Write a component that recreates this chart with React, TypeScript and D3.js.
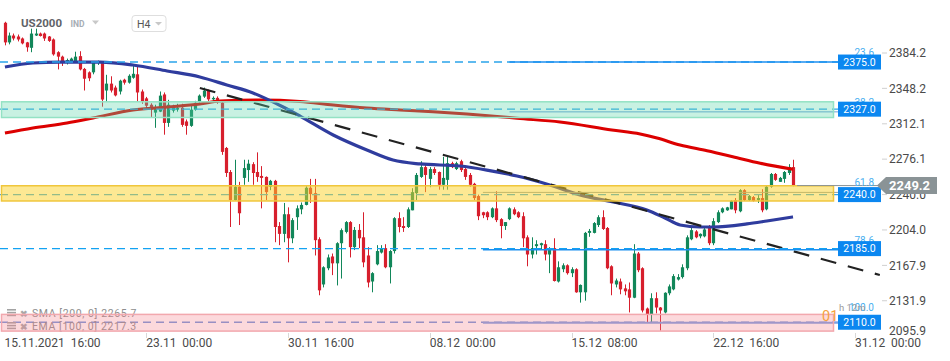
import React from "react";
import * as d3 from "d3";

// ---------- data ----------
const opens = [
  2415,2395,2402,2401,2399,2395,2389.5,2402,2404,2404,
  2401,2398,2385,2380.5,2375,2376,2376,2381,2368,2364.5,
  2364.5,2374,2375,2346,2353,2349,2345,2357,2354,2359,
  2362.5,2345,2338,2331.5,2323.5,2324.5,2342,2313,2325.5,2326.5,
  2328.5,2314.5,2310,2326.5,2334.5,2339.8,2346,2337,2338.5,2333.5,
  2287.5,2263,2234.5,2248,2257,2265,2271,2263,2259,2258,
  2248,2254,2208,2200,2220,2195.5,2217,2225,2229.5,2247,
  2241.5,2194.5,2148.5,2165,2177,2170,2190.5,2202,2212,2186.5,
  2204,2196.5,2178,2151.5,2169,2181,2185.5,2166,2182.5,2216,
  2208,2207,2224,2241.5,2258,2268,2256,2266,2263,2250,
  2255,2272,2266,2274,2266,2260,2251,2238.5,2222,2222,
  2217,2226,2215,2208,2215,2225,2222,2218,2196.5,2179,
  2187.5,2188.5,2189.5,2179,2185.5,2151.5,2164,2168,2160,2164,
  2140.5,2140.5,2201,2201,2209,2217,2206,2167,2148.5,2151.5,
  2144.5,2143.5,2135,2180,2165,2124,2118,2134.5,2125,2120,
  2139.5,2143.5,2153.5,2156,2165,2194.5,2202.5,2197.5,2197.5,2208,
  2190.5,2212,2222,2224,2225,2234.5,2223,2244.5,2234.5,2237.5,
  2234.5,2236.5,2225,2248,2261,2253,2256,2262,2268,
];
const highs = [
  2416,2405,2404,2403,2400,2395.5,2409,2409,2405,2405,
  2401.5,2399,2386,2381.5,2378.5,2379.5,2385.5,2386,2369,2365.5,
  2375,2376.5,2375.5,2362,2360.5,2351,2357,2358,2362.5,2372.5,
  2371.5,2347,2339.5,2333,2331.5,2345,2344,2336.5,2331.5,2332.5,
  2332.5,2316.5,2331.5,2335.5,2342,2349,2347,2340,2340,2335.5,
  2288.5,2265,2275.5,2253,2275.5,2275.5,2273,2283,2269,2258.5,
  2255,2255,2212,2231.5,2227,2216,2229,2232,2248.5,2256,
  2256,2196.5,2167,2179,2180,2191.5,2205.5,2213,2213,2207,
  2210,2222,2186.5,2161,2188.5,2188.5,2189.5,2183.5,2217,2222,
  2217,2227,2246.5,2262,2274,2270,2268,2268,2263.5,2278.5,
  2278.5,2273.5,2273.5,2275.5,2267,2262,2252,2240,2222.5,2223,
  2227,2243.5,2216,2212,2227,2227,2223,2222,2198.5,2196.5,
  2193.5,2191,2193.5,2186.5,2195.5,2172,2170,2169,2166,2165,
  2148.5,2202,2205,2212,2219,2224,2207,2168,2154.5,2154.5,
  2148.5,2150.5,2189.5,2181.5,2166,2125,2139.5,2140.5,2125.5,2140.5,
  2148.5,2159,2159,2169,2198.5,2207,2203.8,2200.5,2208,2209,
  2216,2224,2227,2227.5,2234.5,2236.5,2245.5,2245.5,2239.5,2238.5,
  2239.5,2245.5,2249,2262,2262,2258,2264,2271,2275.5,
];
const lows = [
  2392,2393,2397,2396,2393,2385.5,2385,2401.5,2401,2396.5,
  2395.5,2381.5,2367.5,2371,2372.5,2374.5,2374.5,2366.5,2346,2355.5,
  2362.5,2372,2329.5,2334.5,2344,2340,2342,2352,2353,2358,
  2334.5,2332.5,2327.5,2318,2308,2324,2301,2309,2323.5,2324.5,
  2309,2301,2309,2325.5,2333.5,2338.5,2334.5,2335.5,2332.5,2280.5,
  2258,2207,2234,2209,2250,2253,2250,2253,2226,2234.5,
  2244.5,2191.5,2188.5,2191.5,2171,2190.5,2204,2220,2229,2231.5,
  2178,2137.5,2145.5,2163,2158,2147.5,2154.5,2200.5,2176,2183.5,
  2185.5,2166,2145.5,2140.5,2168,2180,2165,2149.5,2180,2201.5,
  2202,2206,2224,2234.5,2257,2242.5,2247.5,2260,2245,2245,
  2245,2267,2265,2263,2255,2248,2234.5,2214,2216,2214,
  2216,2212,2195.5,2204,2214,2219,2216,2186.5,2167,2175,
  2179,2184,2173,2160,2151.5,2150.5,2161,2158.5,2156,2140,
  2130,2132,2197,2200.5,2207,2204,2164,2137.5,2145.5,2138.5,
  2137.5,2120,2134.5,2161,2120,2109.5,2109.5,2119,2101.5,2119,
  2137.5,2142.5,2152.5,2154.5,2163,2193.5,2195.5,2195.5,2196.5,2188.5,
  2188.5,2211,2221,2223.5,2225,2221,2222,2233.5,2233.5,2233,
  2231.5,2222,2224,2247,2254,2253,2252,2260,2248.5,
];
const closes = [
  2395,2402,2399,2398,2394,2390,2404,2404,2401.5,2399,
  2396.5,2382.8,2380.5,2376,2377,2378.5,2380.5,2367.5,2358,2358.5,
  2374.5,2375.5,2336.8,2353,2346,2341,2356,2354,2361,2363,
  2344,2334.5,2330.5,2326.5,2328.5,2340.8,2313,2331.5,2328.5,2328.5,
  2311,2310,2326.5,2333.5,2340.8,2345.9,2337,2338.5,2334.5,2283.5,
  2262,2234.5,2248,2221,2267,2271.5,2262,2258,2257,2242.5,
  2254,2207,2200,2220,2195.5,2214,2226,2229.5,2247,2240.5,
  2193.6,2142.5,2166,2176,2170,2190.5,2203.8,2212,2186.5,2204,
  2195.5,2171,2150.5,2160,2182.5,2185,2166,2182.5,2216,2207,
  2206,2225,2242.5,2260,2268,2260,2266,2262,2250,2257,
  2272,2268,2272,2265,2258,2250,2236.5,2218,2219,2217,
  2226,2214,2208,2212,2226,2220,2217,2195.5,2179,2185.5,
  2189.5,2190.5,2179,2185.5,2152,2166,2168,2160,2164,2140.5,
  2148,2201,2203,2211,2217,2205,2165,2149.5,2152.5,2143.5,
  2141.5,2135,2180,2163,2122,2118,2134.5,2125,2122,2140,
  2146.5,2157,2156,2166,2196.5,2203.8,2196.5,2200,2204.5,2190.5,
  2213,2222,2226,2227,2233.5,2224,2244.5,2234.5,2238.5,2233.5,
  2236.5,2224,2248,2261,2255,2257,2263,2268,2249.2,
];

const yTicks = [2384.2, 2348.2, 2312.1, 2276.1, 2240.0, 2204.0, 2167.9, 2131.9, 2095.9];
const xTickIdx = [0, 32, 64, 96, 128, 160, 192];
const xTickLabels = ["15.11.2021  16:00", "23.11  00:00", "30.11  16:00", "08.12  00:00", "15.12  08:00", "22.12  16:00", "31.12  00:00"];

const smaIdx = [0.1,6.4,14.1,20,29,36.7,44.1,48.6,57.7,66.7,74.2,81.8,89.3,96.7,104.4,111.9,115.7,125.4,137.1,143.5,147.3,152.5,158.6,164.4,170.6,178];
const smaVal = [2302.7,2307.8,2312.9,2318,2326.2,2329.2,2332.3,2335.3,2336.3,2334.8,2331.2,2328.2,2326.2,2324.4,2322.1,2319.3,2317.7,2313.9,2305.8,2301.7,2297.6,2290.5,2284.7,2278.6,2271.9,2265.7];
const emaIdx = [0.1,6.4,12.5,21.6,29,36.7,44.1,50.2,56.1,62.9,66.7,74.2,81.8,87.7,93.8,102.8,108.9,115.7,123.1,129.9,137.4,145,149.1,152.5,157,159.9,167.6,172.1,178];
const emaVal = [2369.9,2374,2375,2375,2372,2365.9,2359.8,2351.6,2343.5,2329.2,2320,2300.7,2285.4,2275.2,2271.2,2269.1,2265,2258.9,2249.8,2239.6,2232.5,2224.3,2216.2,2209.1,2207,2207,2210.1,2213.1,2217.3];

const trendIdx = [44.1, 197.6];
const trendVal = [2348.6, 2158.1];

const levelValues = [2375.0, 2327.0, 2240.0, 2185.0, 2110.0];
const zoneLow = [2318.5, 2233.5, 2101.0];
const zoneHigh = [2334.5, 2249.0, 2118.0];

const fibHigh = 2457;
const fibLow = 2109.5;
const fibRatios = [23.6, 38.2, 61.8, 78.6, 100.0];
const fibStartIdx = [114, 114, 108, 108, 108];

const lastPrice = 2249.2;
const legendLabels = ["SMA [200, 0] 2265.7", "EMA [100, 0] 2217.3"];

// ---------- layout ----------
const W = 950, H = 361;
const FONT = "Roboto, 'Noto Sans', Arial, sans-serif";
const PLOT_RIGHT = 833.5;
const BOX_X = 838;

const xs = d3.scaleLinear().domain([0, 178]).range([4.5, 793]);
const ys = d3.scaleLinear().domain([2095.9, 2384.2]).range([336.1, 53]);

const RED = "#d71f2d";
const GREEN = "#12875a";

const zoneFill = ["rgba(95,215,170,0.34)", "rgba(252,210,40,0.5)", "rgba(245,128,138,0.3)"];
const zoneStroke = ["#93e2c4", "#f0c63c", "#f2a8ae"];
const levelColor = ["#2aa4ea", "#2aa4ea", "#2aa4ea", "#13a2f2", "#7095dc"];
const fibColor = ["#1c8ff0", "#6b9fd8", "#8a9ca8", "#1a8ff0", "#7aa0e4"];
const fibWidth = [1.5, 1, 1, 1.5, 1.8];

export default function App() {
  const n = closes.length;
  const candles = d3.range(n).map((i) => ({ i, o: opens[i], h: highs[i], l: lows[i], c: closes[i] }));

  const lineGen = d3
    .line<[number, number]>()
    .x((d) => xs(d[0]))
    .y((d) => ys(d[1]))
    .curve(d3.curveMonotoneX);

  const smaPath = lineGen(smaIdx.map((d, k) => [d, smaVal[k]]) as [number, number][]) || "";
  const emaPath = lineGen(emaIdx.map((d, k) => [d, emaVal[k]]) as [number, number][]) || "";

  const fibLevels = fibRatios.map((r) => fibHigh - (fibHigh - fibLow) * (r / 100));
  const lastY = ys(lastPrice);

  return (
    <svg
      width={W}
      height={H}
      viewBox={`0 0 ${W} ${H}`}
      style={{ position: "absolute", left: 0, top: 0, background: "#fff", fontFamily: FONT }}
    >
      <rect x={0} y={0} width={W} height={H} fill="#fff" />

      {/* header */}
      <text x={21} y={27} fontSize={11.5} fontWeight={700} fill="#5f6368">US2000</text>
      <text x={70.5} y={27} fontSize={8.5} fontWeight={700} fill="#a6adb4">IND</text>
      <path d="M92,20.5 L99,20.5 L95.5,24.5 Z" fill="#c8c8c8" />
      <rect x={132} y={15.5} width={34} height={16} rx={3} fill="#fff" stroke="#dedede" />
      <text x={137} y={27.5} fontSize={10.5} fill="#555">H4</text>
      <path d="M155,22 L162,22 L158.5,25.5 Z" fill="#c8c8c8" />

      {/* candles */}
      <g>
        {candles.map((d) => {
          const up = d.c >= d.o;
          const col = up ? GREEN : RED;
          const cx = Math.round(xs(d.i)) + 0.5;
          const top = ys(Math.max(d.o, d.c));
          const bot = ys(Math.min(d.o, d.c));
          return (
            <g key={d.i}>
              <line x1={cx} x2={cx} y1={ys(d.h)} y2={ys(d.l)} stroke={col} strokeWidth={1} />
              <rect x={cx - 1.6} y={top} width={3.2} height={Math.max(1, bot - top)} fill={col} />
            </g>
          );
        })}
      </g>

      {/* moving averages */}
      <path d={smaPath} fill="none" stroke="#dc0000" strokeWidth={3} strokeLinejoin="round" />
      <path d={emaPath} fill="none" stroke="#2f3c9e" strokeWidth={3.2} strokeLinejoin="round" />

      {/* trend line */}
      <line
        x1={xs(trendIdx[0])}
        y1={ys(trendVal[0])}
        x2={xs(trendIdx[1])}
        y2={ys(trendVal[1])}
        stroke="#222"
        strokeWidth={2.2}
        strokeDasharray="16 12"
      />

      {/* dashed horizontal levels */}
      {levelValues.map((v, k) => (
        <line key={k} x1={0} x2={BOX_X} y1={ys(v)} y2={ys(v)} stroke={levelColor[k]} strokeWidth={1.4} strokeDasharray="8 5" />
      ))}

      {/* fibonacci lines */}
      {fibLevels.map((v, k) => (
        <line key={k} x1={xs(fibStartIdx[k])} x2={BOX_X} y1={ys(v)} y2={ys(v)} stroke={fibColor[k]} strokeWidth={fibWidth[k]} />
      ))}

      {/* legend */}
      {legendLabels.map((t, k) => {
        const by = 317 + k * 13;
        return (
          <g key={k}>
            <rect x={7} y={by - 8} width={9} height={1.6} fill="#a3a3a3" />
            <rect x={7} y={by - 5.2} width={9} height={1.6} fill="#a3a3a3" />
            <rect x={7} y={by - 2.4} width={9} height={1.6} fill="#a3a3a3" />
            <text x={20} y={by} fontSize={9} fontWeight={700} fill="#a8a8a8">✖</text>
            <text x={32} y={by} fontSize={10.5} letterSpacing={0.6} fill="#8e8e8e">{t}</text>
          </g>
        );
      })}

      {/* zones */}
      {zoneLow.map((lo, k) => (
        <rect
          key={k}
          x={1.5}
          y={ys(zoneHigh[k])}
          width={PLOT_RIGHT - 1.5}
          height={ys(lo) - ys(zoneHigh[k])}
          fill={zoneFill[k]}
          stroke={zoneStroke[k]}
          strokeWidth={1.5}
        />
      ))}

      {/* current price line */}
      <line x1={797} x2={878} y1={lastY} y2={lastY} stroke="#8a9396" strokeWidth={1} />

      {/* fib labels */}
      {fibLevels.map((v, k) => (
        <text key={k} x={874} y={ys(v) - (k === 4 ? 12 : 6)} fontSize={10} fill="#4aaff0" textAnchor="end">
          {fibRatios[k].toFixed(1)}
        </text>
      ))}
      <text x={822} y={321} fontSize={14.5} fill="#f5a23e">01</text>
      <text x={839} y={311} fontSize={9.5} fill="#9a9a9a" style={{ whiteSpace: "pre" }}>h 12m</text>

      {/* y axis */}
      {yTicks.map((v, k) => {
        const ty = ys(v);
        const ly = Math.min(ty, 331);
        return (
          <g key={k}>
            {ty < 334 && <line x1={882} x2={887} y1={ty} y2={ty} stroke="#d0d0d0" />}
            <text x={889} y={ly + 4.3} fontSize={12} fill="#4a4a4a">{v.toFixed(1)}</text>
          </g>
        );
      })}

      {/* x axis */}
      {xTickIdx.map((idx, k) => {
        const tx = Math.round(xs(idx)) + 0.5;
        return (
          <g key={k}>
            {k > 0 && <line x1={tx} x2={tx} y1={333} y2={338} stroke="#d8d8d8" />}
            <text x={xs(idx)} y={347} fontSize={12} fill="#4a4a4a" style={{ whiteSpace: "pre" }}>
              {xTickLabels[k]}
            </text>
          </g>
        );
      })}

      {/* level boxes */}
      {levelValues.map((v, k) => (
        <g key={k}>
          <rect x={BOX_X} y={ys(v) - 7.5} width={43} height={15} fill="#0b87f0" />
          <text x={BOX_X + 21.5} y={ys(v) + 3.8} fontSize={10.5} fill="#fff" textAnchor="middle">
            {v.toFixed(1)}
          </text>
        </g>
      ))}

      {/* last price tag */}
      <path
        d={`M877,${lastY} L886,${lastY - 8.5} L937,${lastY - 8.5} L937,${lastY + 8.5} L886,${lastY + 8.5} Z`}
        fill="#8a9396"
      />
      <text x={889} y={lastY + 4.6} fontSize={13} fontWeight={700} fill="#fff">{lastPrice.toFixed(1)}</text>
    </svg>
  );
}
